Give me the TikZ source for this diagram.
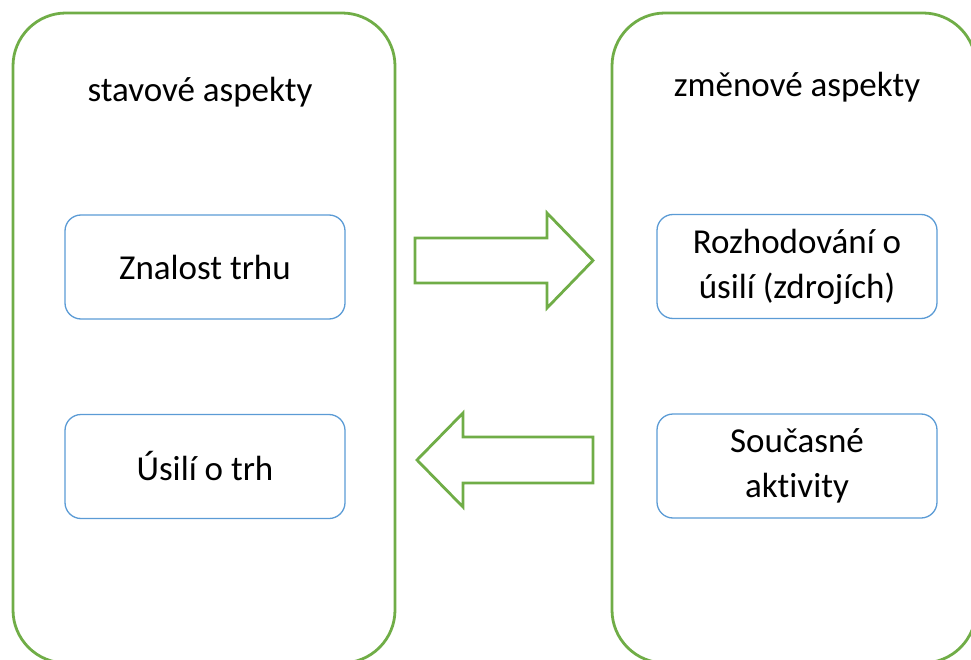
\documentclass[tikz,border=0pt]{standalone}
\usepackage{fontspec}
\setmainfont{Carlito}[Ligatures=NoCommon]
\usetikzlibrary{positioning}

\definecolor{OfficeGreen}{HTML}{70AD47}
\definecolor{OfficeBlue}{HTML}{5B9BD5}

\begin{document}
\begin{tikzpicture}[x=1pt,y=-1pt,
  panel/.style={draw=OfficeGreen,line width=2.8pt,rounded corners=53pt,inner sep=0pt},
  item/.style={draw=OfficeBlue,line width=1.3pt,rounded corners=16pt,minimum width=280pt,minimum height=104pt,align=center,font=\fontsize{35}{45}\selectfont},
  title/.style={font=\fontsize{35}{45}\selectfont,anchor=base},
  blockarrow/.style={draw=OfficeGreen,line width=2.8pt,line join=miter}]
\clip (0,0) rectangle (971,660);

% two big panels
\node[panel,minimum width=382pt,minimum height=650pt] (stav) at (204,338) {};
\node[panel,minimum width=364pt,minimum height=650pt] (zmena) at (794,338) {};

\node[title] (stavtitle) at (200,102) {stavové aspekty};
\node[title] (zmenatitle) at (797,97) {změnové aspekty};

% inner boxes
\node[item] (znalost) at (205,267) {Znalost trhu};
\node[item] (usili) at (205,466.5) {Úsilí o trh};
\node[item] (rozhod) at (797,266.5) {Rozhodování o\\úsilí (zdrojích)};
\node[item] (soucasne) at (797,466) {Současné\\aktivity};

% block arrows
\draw[blockarrow] (415,238) -- (547,238) -- (547,213) -- (593,260.5)
  -- (547,308) -- (547,283) -- (415,283) -- cycle;
\draw[blockarrow] (593,437) -- (463,437) -- (463,413) -- (417,460)
  -- (463,507) -- (463,483) -- (593,483) -- cycle;
\end{tikzpicture}
\end{document}
